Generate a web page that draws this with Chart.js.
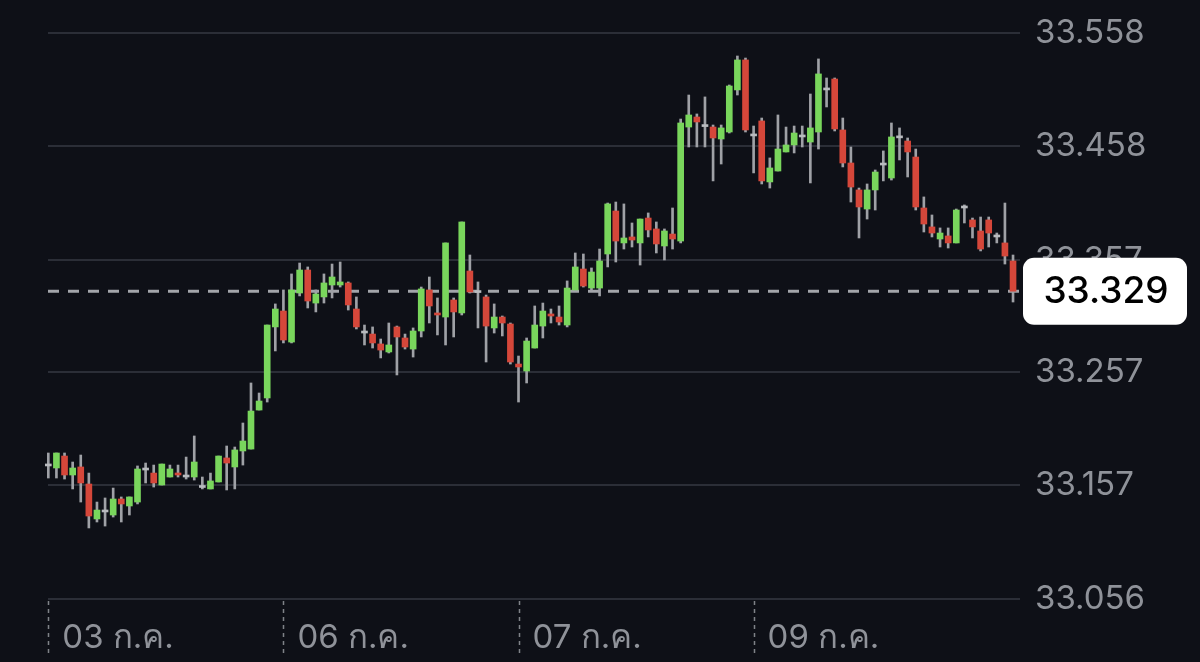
<!DOCTYPE html>
<html>
<head>
<meta charset="utf-8">
<script src="https://cdn.jsdelivr.net/npm/chart.js@4.4.1/dist/chart.umd.min.js"></script>
<style>
html,body{margin:0;padding:0;background:#0e1017;}
canvas{display:block;}
</style>
</head>
<body>
<canvas id="c" width="1200" height="662"></canvas>
<script>
// ---- data ----
const openV = [33.1740,33.1722,33.1828,33.1660,33.1731,33.1580,33.1270,33.1332,33.1305,33.1447,
33.1385,33.1420,33.1704,33.1677,33.1571,33.1642,33.1677,33.1642,33.1642,33.1549,
33.1536,33.1598,33.1811,33.1731,33.1873,33.1890,33.2236,33.2343,33.2973,33.3114,
33.2839,33.3274,33.3478,33.3185,33.3239,33.3345,33.3345,33.3363,33.3132,33.2919,
33.2910,33.2822,33.2751,33.2973,33.2875,33.2777,33.2937,33.3301,33.3097,33.3061,
33.3212,33.3097,33.3469,33.3278,33.3239,33.2964,33.3061,33.2999,33.2644,33.2582,
33.2786,33.2981,33.3088,33.3061,33.2990,33.3301,33.3487,33.3318,33.3318,33.3620,
33.4001,33.3718,33.3771,33.3718,33.3939,33.3842,33.3691,33.3797,33.3735,33.4746,
33.4835,33.4750,33.4746,33.4640,33.4702,33.5075,33.5341,33.4667,33.4800,33.4259,
33.4356,33.4525,33.4587,33.4658,33.4613,33.4702,33.5075,33.5172,33.4720,33.4427,
33.4188,33.4019,33.4188,33.4409,33.4294,33.4650,33.4622,33.4480,33.4028,33.3860,
33.3753,33.3780,33.3718,33.4028,33.3922,33.3824,33.3922,33.3771,33.3718,33.3558];
const highV = [33.1855,33.1855,33.1855,33.1775,33.1837,33.1677,33.1420,33.1456,33.1544,33.1465,
33.1465,33.1740,33.1766,33.1748,33.1757,33.1748,33.1748,33.1819,33.2006,33.1642,
33.1677,33.1828,33.1917,33.1908,33.2121,33.2476,33.2387,33.2990,33.3177,33.3301,
33.3443,33.3540,33.3505,33.3301,33.3443,33.3531,33.3549,33.3372,33.3239,33.2990,
33.2973,33.2866,33.3008,33.2981,33.2910,33.2964,33.3327,33.3416,33.3230,33.3718,
33.3230,33.3904,33.3611,33.3372,33.3256,33.3177,33.3070,33.3008,33.2715,33.2875,
33.3159,33.3185,33.3132,33.3159,33.3381,33.3629,33.3620,33.3496,33.3664,33.4072,
33.4081,33.4064,33.3895,33.3930,33.3984,33.3904,33.3842,33.4028,33.4817,33.5030,
33.4862,33.5013,33.4764,33.4764,33.5119,33.5376,33.5358,33.4755,33.4826,33.4472,
33.4853,33.4746,33.4755,33.4755,33.5039,33.5350,33.5181,33.5181,33.4826,33.4569,
33.4205,33.4241,33.4365,33.4534,33.4782,33.4738,33.4649,33.4551,33.4126,33.3966,
33.3851,33.3851,33.4019,33.4055,33.3939,33.3948,33.3948,33.3806,33.4072,33.3611];
const lowV = [33.1633,33.1633,33.1624,33.1536,33.1420,33.1190,33.1243,33.1207,33.1287,33.1243,
33.1305,33.1403,33.1589,33.1553,33.1571,33.1642,33.1642,33.1624,33.1615,33.1536,
33.1536,33.1598,33.1527,33.1536,33.1748,33.1890,33.2236,33.2307,33.2760,33.2831,
33.2831,33.3248,33.3141,33.3106,33.3185,33.3230,33.3327,33.3123,33.2955,33.2813,
33.2786,33.2698,33.2742,33.2547,33.2777,33.2706,33.2884,33.3008,33.2902,33.2813,
33.2884,33.3079,33.3274,33.2964,33.2662,33.2919,33.2893,33.2644,33.2307,33.2476,
33.2786,33.2875,33.3008,33.2990,33.2973,33.3301,33.3327,33.3301,33.3248,33.3505,
33.3549,33.3664,33.3682,33.3522,33.3771,33.3629,33.3567,33.3664,33.3718,33.4569,
33.4569,33.4569,33.4268,33.4418,33.4693,33.5030,33.4702,33.4339,33.4241,33.4205,
33.4356,33.4525,33.4516,33.4569,33.4250,33.4551,33.4924,33.4711,33.4392,33.4081,
33.3762,33.3930,33.4010,33.4268,33.4276,33.4454,33.4303,33.4010,33.3815,33.3771,
33.3682,33.3673,33.3718,33.3895,33.3762,33.3647,33.3682,33.3718,33.3531,33.3194];
const closeV = [33.1740,33.1855,33.1660,33.1722,33.1589,33.1296,33.1349,33.1332,33.1447,33.1403,
33.1465,33.1713,33.1704,33.1589,33.1757,33.1713,33.1660,33.1642,33.1775,33.1549,
33.1607,33.1828,33.1766,33.1882,33.1961,33.2227,33.2316,33.2990,33.3132,33.2857,
33.3301,33.3478,33.3203,33.3265,33.3363,33.3416,33.3372,33.3168,33.2973,33.2919,
33.2831,33.2768,33.2813,33.2884,33.2795,33.2937,33.3310,33.3159,33.3079,33.3718,
33.3106,33.3904,33.3283,33.3278,33.2981,33.3061,33.3008,33.2662,33.2618,33.2848,
33.2990,33.3114,33.3070,33.3017,33.3318,33.3505,33.3336,33.3460,33.3558,33.4064,
33.3735,33.3762,33.3744,33.3930,33.3833,33.3709,33.3824,33.3753,33.4782,33.4853,
33.4791,33.4750,33.4649,33.4738,33.5110,33.5341,33.4720,33.4667,33.4268,33.4383,
33.4551,33.4587,33.4693,33.4658,33.4738,33.5217,33.5075,33.4729,33.4427,33.4214,
33.4037,33.4188,33.4347,33.4409,33.4658,33.4650,33.4525,33.4037,33.3886,33.3806,
33.3806,33.3718,33.4010,33.4028,33.3860,33.3664,33.3806,33.3771,33.3602,33.3290];
const yTickValues = [33.056, 33.157, 33.257, 33.357, 33.458, 33.558];
const xTickIndex = [0, 29, 58, 87];
const xTickLabels = ['03 ก.ค.', '06 ก.ค.', '07 ก.ค.', '09 ก.ค.'];
const lastPrice = 33.329;

// ---- style ----
const BG = '#0e1017';
const GRID = '#2b2e37';
const LABEL = '#8f9299';
const UP = '#79d65c';
const DOWN = '#d5473a';
const DOJI = '#b9bbbf';
const WICK = '#9fa1a6';
const FONT = "Inter, 'Noto Sans', 'DejaVu Sans', sans-serif";

const wickData = lowV.map((l, i) => ({x: i, y: [l, highV[i]]}));
const bodyData = openV.map((o, i) => ({x: i, y: [o, closeV[i]]}));
const bodyColors = openV.map((o, i) => closeV[i] > o ? UP : (closeV[i] < o ? DOWN : DOJI));

const bgPlugin = {
  id: 'bg',
  beforeDraw(chart) {
    const ctx = chart.ctx;
    ctx.save();
    ctx.fillStyle = BG;
    ctx.fillRect(0, 0, chart.width, chart.height);
    ctx.restore();
  },
  beforeDatasetsDraw(chart) {
    const ctx = chart.ctx, a = chart.chartArea;
    const y = chart.scales.y.getPixelForValue(lastPrice);
    ctx.save();
    ctx.strokeStyle = '#a3a5aa';
    ctx.lineWidth = 3;
    ctx.setLineDash([11, 9]);
    ctx.beginPath();
    ctx.moveTo(a.left, y);
    ctx.lineTo(a.right, y);
    ctx.stroke();
    // date separators
    ctx.strokeStyle = '#7f8288';
    ctx.lineWidth = 1.5;
    ctx.setLineDash([4, 4]);
    xTickIndex.forEach(v => {
      const x = Math.round(chart.scales.x.getPixelForValue(v)) + 0.5;
      ctx.beginPath();
      ctx.moveTo(x, a.bottom + 2);
      ctx.lineTo(x, a.bottom + 54);
      ctx.stroke();
    });
    ctx.restore();
  },
  afterDraw(chart) {
    const ctx = chart.ctx, a = chart.chartArea;
    const y = chart.scales.y.getPixelForValue(lastPrice);
    const bx = a.right + 3, bw = 164, bh = 67, by = y - bh / 2;
    ctx.save();
    ctx.fillStyle = '#ffffff';
    ctx.beginPath();
    ctx.roundRect(bx, by, bw, bh, 11);
    ctx.fill();
    ctx.fillStyle = '#000000';
    ctx.font = '500 37px ' + FONT;
    ctx.textAlign = 'center';
    ctx.textBaseline = 'middle';
    ctx.fillText(lastPrice.toFixed(3), bx + bw / 2 + 1, y + 1);
    ctx.restore();
  }
};

new Chart(document.getElementById('c'), {
  type: 'bar',
  data: {
    datasets: [
      {data: wickData, backgroundColor: WICK, barThickness: 2, grouped: false, clip: false, order: 2},
      {data: bodyData, backgroundColor: bodyColors, barThickness: 6, minBarLength: 2, grouped: false, clip: false, order: 1}
    ]
  },
  options: {
    responsive: false,
    animation: false,
    events: [],
    layout: {padding: {left: 48, top: 10, right: 0, bottom: 0}},
    plugins: {legend: {display: false}, tooltip: {enabled: false}},
    scales: {
      x: {
        type: 'linear',
        offset: false,
        min: -0.04,
        max: 119.86,
        grid: {display: false, offset: false},
        border: {display: false},
        afterBuildTicks: s => { s.ticks = xTickIndex.map(v => ({value: v})); },
        afterFit: s => { s.height = 63; s.paddingLeft = 0; s.paddingRight = 0; },
        ticks: {
          autoSkip: false,
          maxRotation: 0,
          align: 'start',
          labelOffset: 14,
          padding: 11,
          color: LABEL,
          font: {family: FONT, size: 33},
          callback: v => xTickLabels[xTickIndex.indexOf(v)]
        }
      },
      y: {
        position: 'right',
        min: 33.056,
        max: 33.5784,
        grid: {color: GRID, lineWidth: 2, drawTicks: false},
        border: {display: false},
        afterBuildTicks: s => { s.ticks = yTickValues.map(v => ({value: v})); },
        afterFit: s => { s.width = 180; s.paddingTop = 0; s.paddingBottom = 0; },
        ticks: {
          padding: 15,
          color: LABEL,
          font: {family: FONT, size: 33},
          callback: v => v.toFixed(3)
        }
      }
    }
  },
  plugins: [bgPlugin]
});
</script>
</body>
</html>
